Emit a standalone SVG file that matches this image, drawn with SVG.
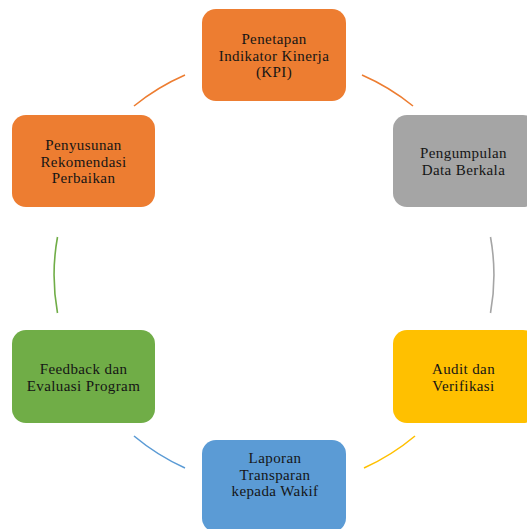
<svg xmlns="http://www.w3.org/2000/svg" width="527" height="529" viewBox="0 0 527 529">
<style>
.box{stroke:none}
.lbl{font-family:"Liberation Serif","Times New Roman",serif;font-size:15px;letter-spacing:0.4px;fill:#151515;text-anchor:middle}
.arc{fill:none;stroke-width:1.6}
</style>
<rect width="527" height="529" fill="#ffffff"/>
<g id="connectors">
<path class="arc" stroke="#ED7D31" d="M362,75 A219.5,216 0 0,1 413,106"/>
<path class="arc" stroke="#A5A5A5" d="M490.5,237 A219.5,216 0 0,1 490.5,313"/>
<path class="arc" stroke="#FFC000" d="M415,436 A219.5,216 0 0,1 364,468"/>
<path class="arc" stroke="#5B9BD5" d="M185,468 A219.5,216 0 0,1 134,436"/>
<path class="arc" stroke="#70AD47" d="M57.5,313 A219.5,216 0 0,1 57.5,237"/>
<path class="arc" stroke="#ED7D31" d="M134,106 A219.5,216 0 0,1 185,75"/>
</g>
<g id="node-kpi">
<rect class="box" x="202" y="9" width="144" height="92" rx="14" fill="#ED7D31"/>
<text class="lbl" x="274" y="44">Penetapan</text>
<text class="lbl" x="274" y="60.7">Indikator Kinerja</text>
<text class="lbl" x="274" y="77.4">(KPI)</text>
</g>
<g id="node-data">
<rect class="box" x="393" y="115" width="144" height="92" rx="14" fill="#A5A5A5"/>
<text class="lbl" x="463.5" y="158">Pengumpulan</text>
<text class="lbl" x="463.5" y="174.7">Data Berkala</text>
</g>
<g id="node-audit">
<rect class="box" x="393" y="330" width="144" height="93" rx="14" fill="#FFC000"/>
<text class="lbl" x="463.5" y="374">Audit dan</text>
<text class="lbl" x="463.5" y="390.7">Verifikasi</text>
</g>
<g id="node-laporan">
<rect class="box" x="202" y="440" width="144" height="92" rx="14" fill="#5B9BD5"/>
<text class="lbl" x="275" y="463">Laporan</text>
<text class="lbl" x="275" y="479.7">Transparan</text>
<text class="lbl" x="275" y="496.4">kepada Wakif</text>
</g>
<g id="node-feedback">
<rect class="box" x="12" y="330" width="143" height="93" rx="14" fill="#70AD47"/>
<text class="lbl" x="83.5" y="374">Feedback dan</text>
<text class="lbl" x="83.5" y="390.7">Evaluasi Program</text>
</g>
<g id="node-rekomendasi">
<rect class="box" x="12" y="115" width="143" height="92" rx="14" fill="#ED7D31"/>
<text class="lbl" x="83.5" y="150">Penyusunan</text>
<text class="lbl" x="83.5" y="166.7">Rekomendasi</text>
<text class="lbl" x="83.5" y="183.4">Perbaikan</text>
</g>
</svg>
